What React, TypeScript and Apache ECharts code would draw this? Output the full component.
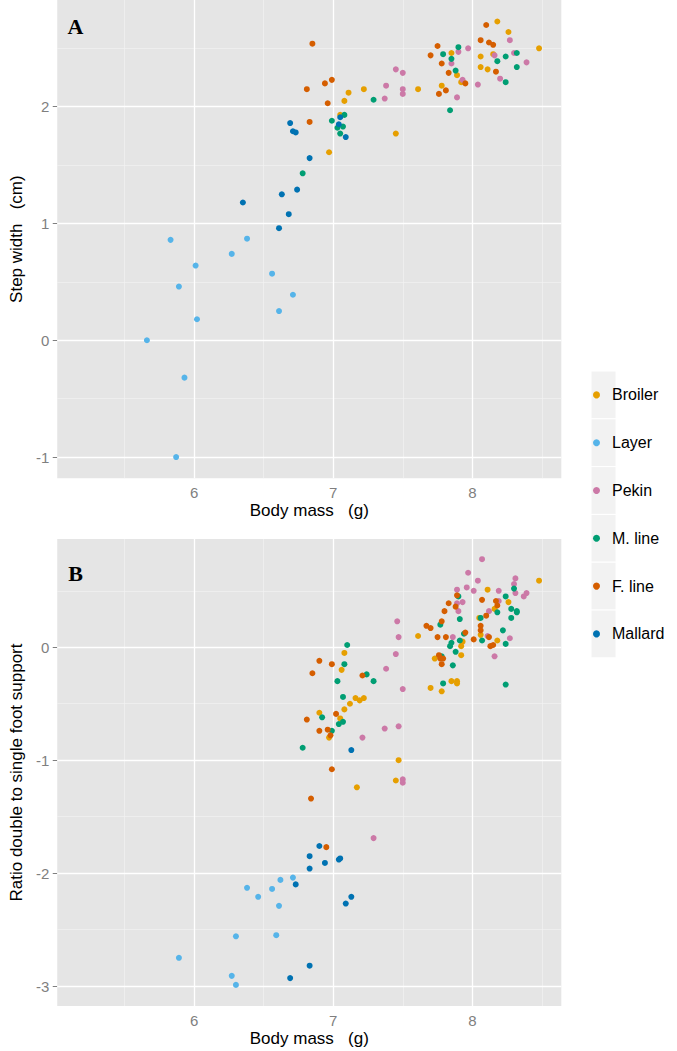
import React, { useEffect, useRef } from "react";
import * as echarts from "echarts";

const species = ["Broiler", "Layer", "Pekin", "M. line", "F. line", "Mallard"];
const colors = ["#E69F00", "#56B4E9", "#CC79A7", "#009E73", "#D55E00", "#0072B2"];

// Panel A: step width (cm) vs body mass
const broilerA = [[8.18,2.73],[8.26,2.64],[8.48,2.50],[7.85,2.46],[8.06,2.43],[8.15,2.45],[8.06,2.34],[8.11,2.32],[7.89,2.27],[7.92,2.21],[7.11,2.12],[7.22,2.15],[7.61,2.15],[7.78,2.18],[7.08,2.05],[7.05,1.93],[7.45,1.77],[6.97,1.61]];
const layerA = [[5.83,0.86],[6.38,0.87],[6.27,0.74],[6.01,0.64],[6.56,0.57],[5.89,0.46],[6.71,0.39],[6.61,0.25],[6.02,0.18],[5.66,0.00],[5.93,-0.32],[5.87,-1.00]];
const pekinA = [[8.27,2.57],[7.97,2.50],[7.90,2.47],[8.16,2.44],[8.30,2.46],[7.85,2.37],[8.39,2.38],[7.45,2.32],[7.50,2.29],[7.93,2.23],[8.04,2.19],[8.20,2.24],[7.38,2.18],[7.50,2.15],[7.50,2.11],[7.89,2.08],[7.37,2.07]];
const mLineA = [[7.90,2.51],[7.79,2.45],[8.24,2.43],[8.32,2.46],[7.85,2.41],[8.18,2.39],[8.32,2.34],[7.88,2.31],[8.24,2.21],[7.29,2.06],[7.84,1.97],[7.08,1.93],[6.99,1.88],[7.07,1.83],[7.03,1.82],[7.05,1.77],[6.78,1.43]];
const fLineA = [[6.85,2.54],[8.10,2.70],[8.06,2.57],[8.12,2.55],[8.15,2.53],[7.75,2.52],[7.70,2.44],[7.78,2.37],[7.83,2.29],[8.17,2.30],[7.95,2.20],[6.99,2.23],[6.94,2.20],[6.81,2.15],[7.81,2.14],[7.76,2.11],[6.96,2.03],[6.83,1.87]];
const mallardA = [[7.05,1.91],[7.04,1.85],[7.09,1.74],[6.69,1.86],[6.71,1.79],[6.73,1.78],[6.83,1.56],[6.63,1.25],[6.74,1.29],[6.35,1.18],[6.68,1.08],[6.61,0.96]];

// Panel B: ratio double to single foot support vs body mass
const broilerB = [[8.48,0.59],[8.11,0.51],[8.26,0.40],[8.16,0.34],[8.05,0.26],[7.61,0.10],[8.06,0.11],[7.93,0.05],[8.18,0.06],[7.92,0.01],[7.92,-0.07],[7.73,-0.10],[7.85,-0.30],[7.89,-0.30],[7.89,-0.32],[7.70,-0.36],[7.78,-0.39],[7.08,-0.05],[7.06,-0.20],[7.16,-0.45],[7.19,-0.47],[7.22,-0.45],[7.12,-0.50],[7.08,-0.55],[6.90,-0.58],[7.05,-0.63],[6.97,-0.80],[7.47,-1.00],[7.45,-1.18],[7.17,-1.24]];
const layerB = [[6.71,-2.04],[6.62,-2.06],[6.38,-2.13],[6.56,-2.14],[6.46,-2.21],[6.61,-2.29],[6.30,-2.56],[6.59,-2.55],[5.89,-2.75],[6.27,-2.91],[6.30,-2.99]];
const pekinB = [[8.07,0.78],[7.97,0.66],[8.04,0.59],[8.31,0.61],[8.30,0.56],[8.31,0.48],[8.39,0.48],[8.37,0.45],[7.89,0.51],[7.96,0.53],[8.01,0.50],[8.19,0.50],[7.89,0.39],[7.93,0.40],[8.19,0.41],[8.12,0.32],[7.90,0.32],[7.46,0.23],[7.47,0.09],[7.86,0.09],[8.11,0.10],[8.27,0.08],[8.16,-0.08],[7.45,-0.06],[7.38,-0.19],[7.50,-0.37],[7.37,-0.72],[7.47,-0.70],[7.21,-0.80],[7.50,-1.17],[7.50,-1.20],[7.29,-1.69]];
const mLineB = [[8.30,0.52],[8.24,0.45],[7.90,0.45],[8.18,0.31],[8.28,0.34],[8.32,0.32],[8.32,0.31],[8.06,0.26],[7.91,0.25],[8.28,0.26],[7.77,0.20],[8.22,0.15],[7.94,0.12],[7.91,0.06],[8.07,0.06],[8.24,0.03],[7.85,0.04],[7.84,0.01],[7.88,-0.04],[7.78,-0.08],[7.86,-0.16],[7.79,-0.32],[8.24,-0.33],[7.10,0.02],[7.08,-0.15],[7.24,-0.24],[7.03,-0.30],[7.29,-0.30],[7.07,-0.44],[6.92,-0.62],[7.07,-0.66],[7.04,-0.68],[6.99,-0.74],[6.78,-0.89]];
const fLineB = [[7.89,0.46],[7.83,0.39],[7.88,0.36],[7.80,0.32],[8.07,0.42],[8.17,0.41],[8.18,0.37],[8.10,0.28],[7.78,0.23],[7.67,0.19],[7.70,0.17],[8.06,0.19],[8.06,0.15],[7.95,0.13],[7.75,0.09],[7.81,0.09],[8.12,0.09],[8.01,0.07],[8.13,0.01],[8.15,0.02],[7.76,-0.07],[7.77,-0.10],[7.79,-0.10],[7.78,-0.15],[6.90,-0.12],[6.99,-0.15],[6.85,-0.23],[7.21,-0.25],[7.02,-0.59],[6.81,-0.64],[6.90,-0.74],[6.96,-0.73],[6.98,-0.78],[6.99,-1.08],[6.84,-1.34],[6.95,-1.77]];
const mallardB = [[7.13,-0.91],[6.90,-1.76],[6.83,-1.85],[7.04,-1.88],[7.05,-1.87],[6.94,-1.91],[6.83,-1.96],[6.73,-2.10],[7.13,-2.21],[7.09,-2.27],[6.83,-2.82],[6.69,-2.93]];

// Tick values
const xTicks = [6, 7, 8];
const xMinor = [5.5, 6.5, 7.5, 8.5];
const yTicksA = [-1, 0, 1, 2];
const yMinorA = [-0.5, 0.5, 1.5, 2.5];
const yTicksB = [-3, -2, -1, 0];
const yMinorB = [-2.5, -1.5, -0.5, 0.5];

const dataA = [broilerA, layerA, pekinA, mLineA, fLineA, mallardA];
const dataB = [broilerB, layerB, pekinB, mLineB, fLineB, mallardB];

const FONT = "'Liberation Sans', Arial, sans-serif";
const MAJOR = { color: "#ffffff", width: 1.3, type: "solid" as const };
const MINOR = { color: "#f2f2f2", width: 0.7, type: "solid" as const };

function gridLines(yMajor: number[], yMin: number[]) {
  const items: any[] = [];
  xMinor.forEach((v) => items.push({ xAxis: v, lineStyle: MINOR }));
  yMin.forEach((v) => items.push({ yAxis: v, lineStyle: MINOR }));
  xTicks.forEach((v) => items.push({ xAxis: v, lineStyle: MAJOR }));
  yMajor.forEach((v) => items.push({ yAxis: v, lineStyle: MAJOR }));
  return items;
}

function xAxisOpt(gridIndex: number) {
  return {
    type: "value",
    gridIndex,
    min: 5.015,
    max: 8.64,
    axisLine: { show: false },
    axisTick: { show: true, length: 4.5, customValues: xTicks, lineStyle: { color: "#7f7f7f", width: 1 } },
    axisLabel: { customValues: xTicks, color: "#7f7f7f", fontSize: 15, margin: 7, fontFamily: FONT },
    splitLine: { show: false },
    name: "Body mass   (g)",
    nameLocation: "middle",
    nameGap: 24,
    nameTextStyle: { color: "#000", fontSize: 17, fontFamily: FONT },
  };
}

function yAxisOpt(gridIndex: number, min: number, max: number, ticks: number[], name: string) {
  return {
    type: "value",
    gridIndex,
    min,
    max,
    axisLine: { show: false },
    axisTick: { show: true, length: 4.5, customValues: ticks, lineStyle: { color: "#7f7f7f", width: 1 } },
    axisLabel: { customValues: ticks, color: "#7f7f7f", fontSize: 15, margin: 8, fontFamily: FONT },
    splitLine: { show: false },
    name,
    nameLocation: "middle",
    nameGap: 25,
    nameTextStyle: { color: "#000", fontSize: 17, fontFamily: FONT },
  };
}

export default function App() {
  const ref = useRef<HTMLDivElement>(null);
  useEffect(() => {
    if (!ref.current) return;
    const chart = echarts.init(ref.current, undefined, { renderer: "svg" });
    const series: any[] = [];
    series.push({
      type: "scatter", name: "gridA", xAxisIndex: 0, yAxisIndex: 0, data: [], z: 1, silent: true,
      markLine: { silent: true, symbol: ["none", "none"], label: { show: false }, emphasis: { disabled: true }, animation: false, data: gridLines(yTicksA, yMinorA) },
    });
    series.push({
      type: "scatter", name: "gridB", xAxisIndex: 1, yAxisIndex: 1, data: [], z: 1, silent: true,
      markLine: { silent: true, symbol: ["none", "none"], label: { show: false }, emphasis: { disabled: true }, animation: false, data: gridLines(yTicksB, yMinorB) },
    });
    species.forEach((name, i) => {
      series.push({ type: "scatter", name, xAxisIndex: 0, yAxisIndex: 0, data: dataA[i], symbolSize: 6, itemStyle: { color: colors[i], opacity: 1 }, z: 10 });
    });
    species.forEach((name, i) => {
      series.push({ type: "scatter", name, xAxisIndex: 1, yAxisIndex: 1, data: dataB[i], symbolSize: 6, itemStyle: { color: colors[i], opacity: 1 }, z: 10 });
    });
    const keyH = 47.8;
    const keyTop = 371;
    const graphics: any[] = species.map((_, i) => ({
      type: "rect",
      z: 0,
      shape: { x: 591, y: keyTop + i * keyH, width: 25, height: keyH },
      style: { fill: "#f2f2f2", stroke: "#ffffff", lineWidth: 1 },
    }));
    graphics.push({ type: "text", x: 75.5, y: 26, style: { text: "A", font: "bold 22px 'Liberation Serif', 'Times New Roman', serif", fill: "#000", textAlign: "center", textVerticalAlign: "middle" }, z: 20 });
    graphics.push({ type: "text", x: 75.5, y: 573.3, style: { text: "B", font: "bold 22px 'Liberation Serif', 'Times New Roman', serif", fill: "#000", textAlign: "center", textVerticalAlign: "middle" }, z: 20 });

    chart.setOption({
      animation: false,
      backgroundColor: "#ffffff",
      textStyle: { fontFamily: FONT },
      grid: [
        { left: 46.4, top: 0, width: 514.9, height: 478.3, show: true, backgroundColor: "#e5e5e5", borderWidth: 0, containLabel: false },
        { left: 46.4, top: 539, width: 514.9, height: 467, show: true, backgroundColor: "#e5e5e5", borderWidth: 0, containLabel: false },
      ],
      xAxis: [xAxisOpt(0), xAxisOpt(1)],
      yAxis: [
        yAxisOpt(0, -1.182, 2.914, yTicksA, "Step width   (cm)"),
        yAxisOpt(1, -3.177, 0.959, yTicksB, "Ratio double to single foot support"),
      ],
      legend: {
        data: species,
        orient: "vertical",
        left: 593,
        top: keyTop,
        padding: 0,
        itemGap: 0,
        itemWidth: 21,
        itemHeight: 7,
        icon: "circle",
        textStyle: { fontSize: 16, color: "#000", lineHeight: keyH, fontFamily: FONT },
        selectedMode: false,
      },
      graphic: graphics,
      series,
    });
    return () => chart.dispose();
  }, []);
  return <div ref={ref} style={{ position: "absolute", left: 0, top: 0, width: 677, height: 1051 }} />;
}
